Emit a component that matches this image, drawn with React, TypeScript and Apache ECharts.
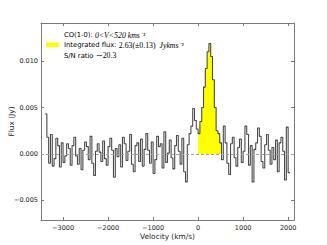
import React, { useEffect, useRef } from 'react';
import * as echarts from 'echarts';

// Spectrum channels: left edge of first channel and channel width (km/s)
const channelStart = -3400;
const channelWidth = 40;

// Flux per channel (Jy), channel by channel
const fluxValues: number[] = [
  // -3400 .. -3000
  0.0043, 0.0018, -0.0010, 0.0021, -0.0013, -0.0005, 0.0017, 0.0009, -0.0014, 0.0012,
  // -3000 .. -2600
  -0.0009, -0.0002, 0.0011, 0.0006, -0.0012, 0.0009, 0.0018, -0.0002, -0.0011, 0.0006,
  // -2600 .. -2200
  -0.0017, 0.0004, 0.0013, 0.0008, -0.0006, 0.0019, -0.0010, -0.0023, 0.0003, 0.0011,
  // -2200 .. -1800
  0.0002, -0.0008, 0.0014, -0.0005, -0.0012, 0.0008, 0.0017, 0.0004, -0.0025, 0.0006,
  // -1800 .. -1400
  -0.0003, 0.0010, -0.0014, 0.0018, 0.0011, -0.0007, 0.0003, 0.0021, -0.0011, -0.0019,
  // -1400 .. -1000
  0.0009, 0.0012, -0.0008, 0.0016, -0.0013, 0.0005, 0.0022, 0.0004, -0.0010, 0.0013,
  // -1000 .. -600
  -0.0021, -0.0006, 0.0019, 0.0008, 0.0011, -0.0015, 0.0024, -0.0009, 0.0001, 0.0015,
  // -600 .. -200
  -0.0004, -0.0016, 0.0009, 0.0020, 0.0003, -0.0011, 0.0017, -0.0019, -0.0030, 0.0010,
  // -200 .. 0
  0.0022, 0.0030, 0.0049, 0.0036, 0.0027,
  // 0 .. 520 (CO line)
  0.0022, 0.0035, 0.0050, 0.0072, 0.0092, 0.0110, 0.0119, 0.0105, 0.0080, 0.0050, 0.0025, 0.0022, 0.0012,
  // 520 .. 920
  -0.0006, 0.0030, 0.0012, -0.0010, -0.0022, 0.0011, 0.0018, -0.0004, -0.0013, 0.0007,
  // 920 .. 1320
  0.0016, -0.0009, 0.0003, 0.0030, 0.0021, -0.0012, 0.0009, -0.0030, 0.0005, 0.0012,
  // 1320 .. 1720
  0.0028, 0.0019, -0.0008, -0.0015, 0.0010, 0.0021, 0.0004, -0.0011, 0.0007, -0.0006,
  // 1720 .. 2040
  0.0015, -0.0019, 0.0012, 0.0018, 0.0003, -0.0028, 0.0029, -0.0020,
];

const lineRange: [number, number] = [0, 520];
const xTicks = [-3000, -2000, -1000, 0, 1000, 2000];
const yTicks = [-0.005, 0, 0.005, 0.01];
const xRange: [number, number] = [-3490, 2130];
const yRange: [number, number] = [-0.0071, 0.0141];

const legendLines = [
  '{s|CO(1-0): }{m|0<V<520 kms⁻¹}',
  '{s|Integrated flux: }{r|2.63(±0.13)  }{m|Jykms⁻¹}',
  '{s|S/N ratio }{r|∼20.3}',
];

const xTitle = 'Velocity (km/s)';
const yTitle = 'Flux (Jy)';

const minus = (v: number, digits: number) =>
  (v < 0 ? '\u2212' : '') + Math.abs(v).toFixed(digits);

export default function App() {
  const ref = useRef<HTMLDivElement>(null);

  useEffect(() => {
    if (!ref.current) return;
    const chart = echarts.init(ref.current, undefined, { renderer: 'svg' });

    const stepData: number[][] = fluxValues.map((f, i) => [channelStart + i * channelWidth, f]);
    stepData.push([channelStart + fluxValues.length * channelWidth, fluxValues[fluxValues.length - 1]]);

    const fillData: number[][] = [];
    fluxValues.forEach((f, i) => {
      const x = channelStart + i * channelWidth;
      if (x >= lineRange[0] && x < lineRange[1]) fillData.push([x, f]);
    });
    fillData.push([lineRange[1], fillData[fillData.length - 1][1]]);

    const frame = '#7a7a7a';
    const tickFont = 'DejaVu Sans';

    const baseX = {
      type: 'value' as const,
      min: xRange[0],
      max: xRange[1],
      axisLine: { show: true, onZero: false, lineStyle: { color: frame, width: 1 } },
      axisTick: { show: true, inside: true, length: 3, customValues: xTicks, lineStyle: { color: frame } },
      splitLine: { show: false },
    };
    const baseY = {
      type: 'value' as const,
      min: yRange[0],
      max: yRange[1],
      axisLine: { show: true, onZero: false, lineStyle: { color: frame, width: 1 } },
      axisTick: { show: true, inside: true, length: 3, customValues: yTicks, lineStyle: { color: frame } },
      splitLine: { show: false },
    };

    chart.setOption({
      animation: false,
      grid: { left: 41, right: 33, top: 23, bottom: 25, containLabel: false },
      xAxis: [
        {
          ...baseX,
          position: 'bottom',
          axisLabel: {
            customValues: xTicks,
            formatter: (v: number) => minus(v, 0),
            fontFamily: tickFont,
            fontSize: 6.5,
            color: '#1a1a1a',
            margin: 4,
          },
        },
        { ...baseX, position: 'top', axisLabel: { show: false } },
      ],
      yAxis: [
        {
          ...baseY,
          position: 'left',
          axisLabel: {
            customValues: yTicks,
            formatter: (v: number) => minus(v, 3),
            fontFamily: tickFont,
            fontSize: 6.5,
            color: '#1a1a1a',
            margin: 3,
          },
        },
        { ...baseY, position: 'right', axisLabel: { show: false } },
      ],
      series: [
        {
          type: 'line',
          step: 'end',
          data: fillData,
          symbol: 'none',
          lineStyle: { width: 0 },
          areaStyle: { color: '#ffff00', opacity: 1 },
          z: 1,
          silent: true,
        },
        {
          type: 'line',
          step: 'end',
          data: stepData,
          symbol: 'none',
          lineStyle: { color: '#4a4a4a', width: 1.1 },
          z: 3,
          silent: true,
          markLine: {
            silent: true,
            symbol: 'none',
            label: { show: false },
            lineStyle: { color: '#a0a0a0', type: [3, 2], width: 1 },
            data: [{ yAxis: 0 }],
          },
        },
      ],
      graphic: [
        {
          type: 'rect',
          shape: { x: 46, y: 42.5, width: 13, height: 4.5 },
          style: { fill: '#ffff00' },
        },
        ...legendLines.map((t, i) => ({
          type: 'text',
          x: 64,
          y: 35 + i * 10.4,
          style: {
            text: t,
            textVerticalAlign: 'middle',
            fill: '#000',
            rich: {
              s: { fontFamily: 'DejaVu Sans', fontSize: 6.8, fill: '#000' },
              m: { fontFamily: 'Liberation Serif', fontStyle: 'italic', fontSize: 7.8, fill: '#000' },
              r: { fontFamily: 'Liberation Serif', fontSize: 7.8, fill: '#000' },
            },
          },
        })),
        {
          type: 'text',
          x: 167.5,
          y: 236,
          style: {
            text: xTitle,
            textAlign: 'center',
            textVerticalAlign: 'middle',
            fontFamily: 'DejaVu Sans',
            fontSize: 7.4,
            fill: '#1a1a1a',
          },
        },
        {
          type: 'text',
          x: 11,
          y: 121.5,
          rotation: Math.PI / 2,
          style: {
            text: yTitle,
            textAlign: 'center',
            textVerticalAlign: 'middle',
            fontFamily: 'DejaVu Sans',
            fontSize: 7.4,
            fill: '#1a1a1a',
          },
        },
      ],
    });

    return () => chart.dispose();
  }, []);

  return (
    <div
      ref={ref}
      style={{ position: 'fixed', left: 0, top: 0, width: 327, height: 245, background: '#fff' }}
    />
  );
}
